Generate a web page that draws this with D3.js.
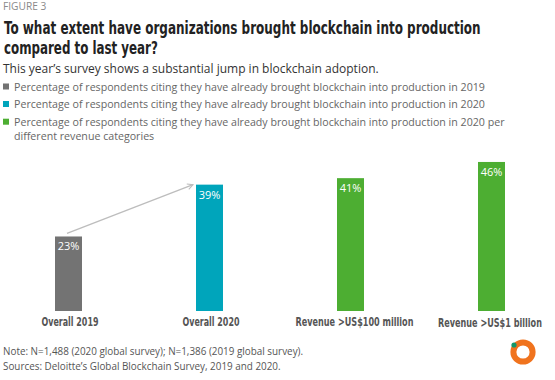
<!DOCTYPE html>
<html><head><meta charset="utf-8">
<script src="https://cdn.jsdelivr.net/npm/d3@7"></script>
<style>
html,body{margin:0;padding:0;background:#fff;}
svg{display:block;}
</style></head>
<body>
<script>
const categories = ["Overall 2019", "Overall 2020", "Revenue >US$100 million", "Revenue >US$1 billion"];
const values = [23, 39, 41, 46];
const seriesKeys = ["y2019", "y2020", "rev", "rev"];
const valueLabels = ["23%", "39%", "41%", "46%"];
const legendLabels = [
  ["Percentage of respondents citing they have already brought blockchain into production in 2019"],
  ["Percentage of respondents citing they have already brought blockchain into production in 2020"],
  ["Percentage of respondents citing they have already brought blockchain into production in 2020 per", "different revenue categories"]
];
const legendKeys = ["y2019", "y2020", "rev"];
const colors = {y2019: "#737373", y2020: "#00a5bb", rev: "#4dae32"};

const W = 555, H = 380;
const svg = d3.select("body").append("svg").attr("width", W).attr("height", H);
const condensed = "'Liberation Sans Narrow','DejaVu Sans Condensed','Roboto Condensed','Open Sans',sans-serif";
const body = "'Open Sans','Noto Sans',sans-serif";

// draws condensed text squeezed horizontally to a target width via transform
function squeezed(parent, str, cx, by, target, size, anchor, fill) {
  const grp = parent.append("g");
  const t = grp.append("text").text(str)
    .style("font-family", condensed).style("font-weight", "bold").style("font-stretch", "condensed")
    .style("font-size", size + "px").style("fill", fill);
  const w = t.node().getComputedTextLength();
  const sx = target / w;
  const left = anchor === "middle" ? cx - target / 2 : cx;
  grp.attr("transform", `translate(${left},${by}) scale(${sx},1)`);
  return grp;
}

svg.append("text").attr("x", 3).attr("y", 10).text("FIGURE 3")
  .style("font-family", body).style("font-size", "10.2px").style("fill", "#8a8a8a");

squeezed(svg, "To what extent have organizations brought blockchain into production", 4, 33.5, 477, 18.5, "start", "#222");
squeezed(svg, "compared to last year?", 4, 53.5, 154, 18.5, "start", "#222");

svg.append("text").attr("x", 3).attr("y", 73)
  .text("This year\u2019s survey shows a substantial jump in blockchain adoption.")
  .style("font-family", body).style("font-size", "12px").style("fill", "#333");

// legend
const lg = svg.append("g");
const legendY = [90.5, 108, 125.7];
legendLabels.forEach((lines, i) => {
  lg.append("rect").attr("x", 3).attr("y", legendY[i] - 7).attr("width", 6).attr("height", 6)
    .attr("fill", colors[legendKeys[i]]);
  lines.forEach((ln, j) => {
    lg.append("text").attr("x", 14).attr("y", legendY[i] + j * 13.8).text(ln)
      .style("font-family", body).style("font-size", "10.65px").style("fill", "#666");
  });
});

// bars
const x = d3.scaleBand().domain(categories).range([55, 505]).paddingInner(0.8085).paddingOuter(0);
const y = d3.scaleLinear().domain([0, 50]).range([311, 149]);

const g = svg.append("g");
g.selectAll("rect.bar").data(categories).enter().append("rect")
  .attr("class", "bar")
  .attr("x", d => x(d)).attr("width", x.bandwidth())
  .attr("y", (d, i) => y(values[i])).attr("height", (d, i) => y(0) - y(values[i]))
  .attr("fill", (d, i) => colors[seriesKeys[i]]);

g.selectAll("text.val").data(categories).enter().append("text")
  .attr("class", "val")
  .attr("x", d => x(d) + x.bandwidth() / 2)
  .attr("y", (d, i) => y(values[i]) + 14)
  .attr("text-anchor", "middle")
  .text((d, i) => valueLabels[i])
  .style("font-family", body).style("font-size", "11px").style("fill", "#fff");

const catWidths = [57, 57, 118, 104];
const catDx = [1.5, 1.5, 4, -1.5];
const catDy = [0, 0, 0, 1];
categories.forEach((c, i) => {
  squeezed(g, c, x(c) + x.bandwidth() / 2 + catDx[i], 326 + catDy[i], catWidths[i], 12, "middle", "#555");
});

// arrow from 2019 bar to 2020 bar
const defs = svg.append("defs");
defs.append("marker").attr("id", "arr").attr("viewBox", "0 0 10 10").attr("refX", 9).attr("refY", 5)
  .attr("markerWidth", 7).attr("markerHeight", 7).attr("orient", "auto").attr("markerUnits", "userSpaceOnUse")
  .append("path").attr("d", "M1,1 L9,5 L1,9").attr("fill", "none").attr("stroke", "#bdbdbd").attr("stroke-width", 1.5);
const x1 = x(categories[0]) + x.bandwidth() / 2 - 1.5, y1 = y(values[0]) - 3;
const x2 = x(categories[1]) - 3, y2 = y(values[1]);
svg.append("line").attr("x1", x1).attr("y1", y1).attr("x2", x2).attr("y2", y2)
  .attr("stroke", "#bdbdbd").attr("stroke-width", 1.3).attr("marker-end", "url(#arr)");

// footer
svg.append("text").attr("x", 3).attr("y", 354.5)
  .text("Note: N=1,488 (2020 global survey); N=1,386 (2019 global survey).")
  .style("font-family", body).style("font-size", "9.9px").style("fill", "#555");
svg.append("text").attr("x", 3).attr("y", 369.5)
  .text("Sources: Deloitte\u2019s Global Blockchain Survey, 2019 and 2020.")
  .style("font-family", body).style("font-size", "9.9px").style("fill", "#555");

// logo
svg.append("circle").attr("cx", 523).attr("cy", 352).attr("r", 9.6)
  .attr("fill", "none").attr("stroke", "#f0731e").attr("stroke-width", 6);
svg.append("circle").attr("cx", 514).attr("cy", 345).attr("r", 2.6).attr("fill", "#13976a");
</script>
</body></html>
